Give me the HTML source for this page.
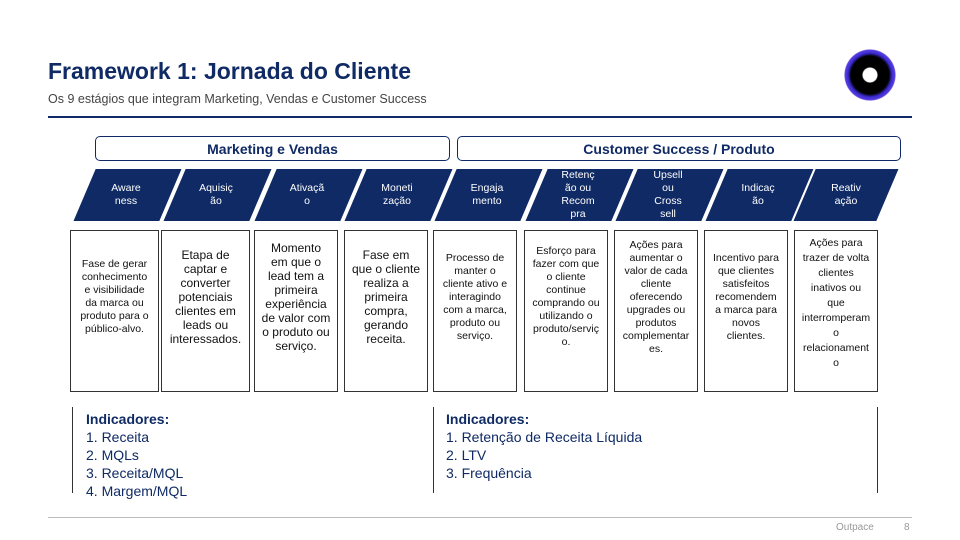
<!DOCTYPE html>
<html><head><meta charset="utf-8"><style>
body{margin:0;width:960px;height:540px;background:#fff;position:relative;overflow:hidden;font-family:"Liberation Sans",sans-serif;}
.a{position:absolute}
.t{left:48px;top:58px;font-size:23px;font-weight:bold;color:#0f2a64}
.s{left:48px;top:92px;font-size:12.5px;color:#444}
.pill{position:absolute;top:136px;height:25px;border:1px solid #0f2a64;border-radius:5px;box-sizing:border-box;text-align:center;line-height:24px;font-size:14px;font-weight:bold;color:#0f2a64}
.pt{position:absolute;top:168px;height:54px;width:88px;display:flex;align-items:center;justify-content:center;text-align:center;color:#fff;font-size:10.5px;line-height:13px}
.bx{position:absolute;top:230px;height:162px;border:1px solid #333;box-sizing:border-box;display:flex;align-items:center;justify-content:center;text-align:center;font-size:10.5px;line-height:13px;color:#111;white-space:nowrap;padding-bottom:28px}
.bx.big{font-size:12px;line-height:14px}
.vl{position:absolute;top:407px;height:86px;width:1px;background:#333}
.ind{position:absolute;top:410px;font-size:14px;line-height:18px;color:#0f2a64}
</style></head><body>
<div class="a t">Framework 1: Jornada do Cliente</div>
<div class="a s">Os 9 estágios que integram Marketing, Vendas e Customer Success</div>
<div class="a" style="left:48px;top:116px;width:864px;height:2px;background:#0f2a64"></div>
<div class="a" style="left:844px;top:49px;width:52px;height:52px;border-radius:50%;background:radial-gradient(circle,#fff 0 7px,#000 8px 19px,#3a2bd0 22px,#5a3fe0 25px,rgba(255,255,255,0) 26px)"></div>
<div class="pill" style="left:95px;width:355px">Marketing e Vendas</div>
<div class="pill" style="left:457px;width:444px">Customer Success / Produto</div>
<svg class="a" style="left:0;top:0" width="960" height="540">
<g fill="#0f2a64" stroke="#fff" stroke-width="2">
<polygon points="72,222 95,168 183,168 160,222"/>
<polygon points="162,222 185,168 273,168 250,222"/>
<polygon points="253,222 276,168 364,168 341,222"/>
<polygon points="343,222 366,168 454,168 431,222"/>
<polygon points="433,222 456,168 544,168 521,222"/>
<polygon points="524,222 547,168 635,168 612,222"/>
<polygon points="614,222 637,168 725,168 702,222"/>
<polygon points="704,222 727,168 815,168 792,222"/>
<polygon points="792,222 815,168 900,168 877,222"/>
</g></svg>
<div class="pt" style="left:82px">Aware<br>ness</div>
<div class="pt" style="left:172px">Aquisiç<br>ão</div>
<div class="pt" style="left:263px">Ativaçã<br>o</div>
<div class="pt" style="left:353px">Moneti<br>zação</div>
<div class="pt" style="left:443px">Engaja<br>mento</div>
<div class="pt" style="left:534px">Retenç<br>ão ou<br>Recom<br>pra</div>
<div class="pt" style="left:624px">Upsell<br>ou<br>Cross<br>sell</div>
<div class="pt" style="left:714px">Indicaç<br>ão</div>
<div class="pt" style="left:802px">Reativ<br>ação</div>
<div class="bx" style="left:70px;width:89px"><div>Fase de gerar<br>conhecimento<br>e visibilidade<br>da marca ou<br>produto para o<br>público-alvo.</div></div>
<div class="bx big" style="left:161px;width:89px"><div>Etapa de<br>captar e<br>converter<br>potenciais<br>clientes em<br>leads ou<br>interessados.</div></div>
<div class="bx big" style="left:254px;width:84px"><div>Momento<br>em que o<br>lead tem a<br>primeira<br>experiência<br>de valor com<br>o produto ou<br>serviço.</div></div>
<div class="bx big" style="left:344px;width:84px"><div>Fase em<br>que o cliente<br>realiza a<br>primeira<br>compra,<br>gerando<br>receita.</div></div>
<div class="bx" style="left:433px;width:84px"><div>Processo de<br>manter o<br>cliente ativo e<br>interagindo<br>com a marca,<br>produto ou<br>serviço.</div></div>
<div class="bx" style="left:524px;width:84px"><div>Esforço para<br>fazer com que<br>o cliente<br>continue<br>comprando ou<br>utilizando o<br>produto/serviç<br>o.</div></div>
<div class="bx" style="left:614px;width:84px"><div>Ações para<br>aumentar o<br>valor de cada<br>cliente<br>oferecendo<br>upgrades ou<br>produtos<br>complementar<br>es.</div></div>
<div class="bx" style="left:704px;width:84px"><div>Incentivo para<br>que clientes<br>satisfeitos<br>recomendem<br>a marca para<br>novos<br>clientes.</div></div>
<div class="bx" style="left:794px;width:84px;line-height:15px;padding-bottom:16px"><div>Ações para<br>trazer de volta<br>clientes<br>inativos ou<br>que<br>interromperam<br>o<br>relacionament<br>o</div></div>
<div class="vl" style="left:72px"></div>
<div class="vl" style="left:433px"></div>
<div class="vl" style="left:877px"></div>
<div class="ind" style="left:86px"><b>Indicadores:</b><br>1. Receita<br>2. MQLs<br>3. Receita/MQL<br>4. Margem/MQL</div>
<div class="ind" style="left:446px"><b>Indicadores:</b><br>1. Retenção de Receita Líquida<br>2. LTV<br>3. Frequência</div>
<div class="a" style="left:48px;top:517px;width:864px;height:1px;background:#bbb"></div>
<div class="a" style="left:836px;top:522px;font-size:10px;color:#999">Outpace</div>
<div class="a" style="left:904px;top:522px;font-size:10px;color:#999">8</div>
</body></html>
